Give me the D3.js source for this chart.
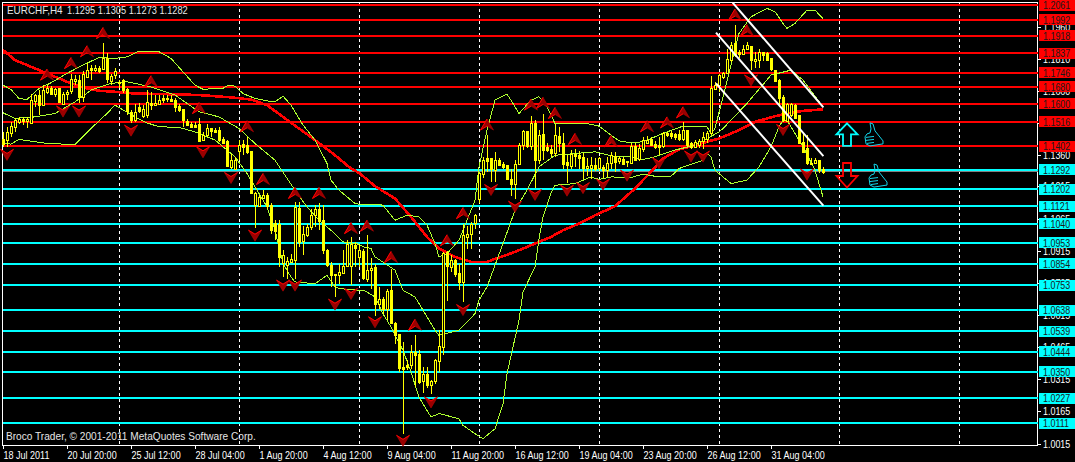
<!DOCTYPE html>
<html><head><meta charset="utf-8"><script src="https://d3js.org/d3.v7.min.js"></script>
<style>html,body{margin:0;padding:0;background:#000;overflow:hidden}svg{display:block}</style></head><body><div id="c"></div>
<script>
const symbol="EURCHF,H4", lastQuote=["1.1295","1.1305","1.1273","1.1282"], copyright="Broco Trader, © 2001-2011 MetaQuotes Software Corp.";
const opens=[1.1438,1.1431,1.1462,1.1490,1.1516,1.1529,1.1521,1.1511,1.1613,1.1641,1.1594,1.1656,1.1676,1.1645,1.1672,1.1602,1.1645,1.1656,1.1706,1.1711,1.1630,1.1729,1.1765,1.1757,1.1765,1.1765,1.1813,1.1711,1.1732,1.1704,1.1711,1.1667,1.1564,1.1527,1.1586,1.1547,1.1547,1.1606,1.1595,1.1599,1.1628,1.1620,1.1623,1.1617,1.1589,1.1574,1.1521,1.1505,1.1501,1.1505,1.1431,1.1454,1.1485,1.1477,1.1477,1.1438,1.1426,1.1309,1.1298,1.1384,1.1412,1.1406,1.1378,1.1127,1.1122,1.1161,1.1174,1.1127,1.1045,1.1041,1.0855,1.0847,1.0866,1.0870,1.1116,1.0961,1.0987,1.1026,1.1080,1.1107,1.1057,1.0917,1.0847,1.0805,1.0800,1.0808,1.0842,1.0847,1.0940,1.0886,1.0912,1.0785,1.0827,1.0839,1.0668,1.0691,1.0645,1.0730,1.0578,1.0525,1.0372,1.0380,1.0380,1.0442,1.0431,1.0305,1.0338,1.0287,1.0305,1.0400,1.0466,1.0909,1.0839,1.0873,1.0811,1.0769,1.0982,1.0995,1.1041,1.1155,1.1272,1.1345,1.1345,1.1294,1.1340,1.1318,1.1314,1.1247,1.1225,1.1317,1.1407,1.1474,1.1403,1.1511,1.1337,1.1457,1.1400,1.1387,1.1368,1.1449,1.1418,1.1329,1.1314,1.1368,1.1360,1.1350,1.1298,1.1298,1.1314,1.1298,1.1306,1.1294,1.1325,1.1356,1.1332,1.1342,1.1332,1.1325,1.1403,1.1340,1.1387,1.1418,1.1434,1.1412,1.1407,1.1400,1.1462,1.1462,1.1459,1.1459,1.1434,1.1477,1.1415,1.1400,1.1407,1.1423,1.1438,1.1462,1.1667,1.1687,1.1723,1.1742,1.1804,1.1882,1.1840,1.1835,1.1855,1.1871,1.1796,1.1804,1.1840,1.1838,1.1812,1.1760,1.1711,1.1630,1.1521,1.1547,1.1594,1.1547,1.1423,1.1392,1.1326,1.1321,1.1337,1.1295];
const highs=[1.1469,1.1493,1.1516,1.1532,1.1539,1.1539,1.1539,1.1648,1.1648,1.1664,1.1687,1.1687,1.1683,1.1672,1.1676,1.1656,1.1664,1.1739,1.1734,1.1734,1.1754,1.1791,1.1781,1.1781,1.1776,1.1882,1.1835,1.1739,1.1765,1.1711,1.1714,1.1672,1.1571,1.1599,1.1602,1.1594,1.1664,1.1656,1.1641,1.1641,1.1641,1.1641,1.1641,1.1625,1.1599,1.1578,1.1527,1.1516,1.1516,1.1532,1.1469,1.1508,1.1488,1.1485,1.1493,1.1446,1.1431,1.1365,1.1353,1.1431,1.1431,1.1443,1.1381,1.1189,1.1174,1.1197,1.1182,1.1135,1.1057,1.1057,1.0917,1.0886,1.0898,1.1143,1.1143,1.1029,1.1041,1.1111,1.1127,1.1135,1.1127,1.0925,1.0863,1.0808,1.0855,1.0920,1.0964,1.0979,1.0956,1.0948,1.0925,1.0987,1.0883,1.0855,1.0746,1.0699,1.0738,1.0831,1.0583,1.0528,1.0489,1.0407,1.0473,1.0520,1.0450,1.0372,1.0372,1.0313,1.0411,1.0547,1.0909,1.0914,1.0894,1.0878,1.0855,1.1041,1.1029,1.1049,1.1088,1.1283,1.1353,1.1454,1.1345,1.1376,1.1345,1.1329,1.1314,1.1298,1.1340,1.1415,1.1477,1.1474,1.1542,1.1524,1.1477,1.1552,1.1415,1.1407,1.1508,1.1490,1.1465,1.1360,1.1384,1.1387,1.1381,1.1371,1.1345,1.1353,1.1345,1.1353,1.1314,1.1353,1.1376,1.1376,1.1356,1.1350,1.1332,1.1418,1.1418,1.1412,1.1446,1.1449,1.1443,1.1427,1.1446,1.1469,1.1469,1.1474,1.1465,1.1477,1.1516,1.1480,1.1423,1.1431,1.1434,1.1469,1.1474,1.1729,1.1703,1.1739,1.1749,1.1858,1.1889,1.1967,1.1851,1.1874,1.1889,1.1871,1.1843,1.1858,1.1843,1.1843,1.1816,1.1760,1.1718,1.1641,1.1602,1.1602,1.1597,1.1547,1.1462,1.1454,1.1345,1.1345,1.1340,1.1305];
const lows=[1.1400,1.1400,1.1446,1.1469,1.1508,1.1501,1.1485,1.1505,1.1586,1.1547,1.1589,1.1648,1.1645,1.1633,1.1602,1.1599,1.1617,1.1645,1.1687,1.1602,1.1609,1.1726,1.1711,1.1749,1.1745,1.1760,1.1698,1.1687,1.1718,1.1672,1.1651,1.1547,1.1511,1.1516,1.1555,1.1532,1.1532,1.1571,1.1589,1.1599,1.1605,1.1609,1.1609,1.1563,1.1563,1.1490,1.1496,1.1490,1.1485,1.1423,1.1427,1.1446,1.1446,1.1462,1.1423,1.1412,1.1306,1.1298,1.1290,1.1337,1.1360,1.1368,1.1182,1.1023,1.1119,1.1158,1.1111,1.0995,1.0964,1.0839,1.0792,1.0785,1.0863,1.0785,1.0933,1.0894,1.0979,1.1010,1.1026,1.1010,1.0901,1.0839,1.0746,1.0699,1.0761,1.0808,1.0839,1.0754,1.0839,1.0839,1.0777,1.0769,1.0738,1.0609,1.0645,1.0621,1.0590,1.0575,1.0481,1.0349,1.0061,1.0357,1.0365,1.0279,1.0295,1.0251,1.0276,1.0245,1.0292,1.0349,1.0427,1.0679,1.0816,1.0792,1.0730,1.0676,1.0925,1.0925,1.1018,1.1138,1.1252,1.1283,1.1236,1.1236,1.1314,1.1298,1.1244,1.1169,1.1158,1.1314,1.1384,1.1392,1.1384,1.1209,1.1318,1.1340,1.1376,1.1353,1.1353,1.1376,1.1298,1.1231,1.1298,1.1306,1.1298,1.1247,1.1262,1.1247,1.1287,1.1287,1.1252,1.1259,1.1298,1.1283,1.1321,1.1314,1.1306,1.1318,1.1334,1.1334,1.1376,1.1415,1.1403,1.1387,1.1360,1.1392,1.1443,1.1438,1.1431,1.1427,1.1427,1.1400,1.1387,1.1392,1.1392,1.1388,1.1415,1.1454,1.1664,1.1656,1.1718,1.1739,1.1796,1.1819,1.1812,1.1827,1.1851,1.1757,1.1765,1.1765,1.1801,1.1804,1.1754,1.1703,1.1586,1.1516,1.1516,1.1539,1.1527,1.1415,1.1371,1.1314,1.1314,1.1318,1.1275,1.1273];
const closes=[1.1415,1.1469,1.1496,1.1524,1.1530,1.1521,1.1530,1.1617,1.1641,1.1594,1.1664,1.1676,1.1648,1.1667,1.1605,1.1648,1.1656,1.1714,1.1714,1.1633,1.1739,1.1760,1.1757,1.1767,1.1751,1.1816,1.1717,1.1732,1.1751,1.1698,1.1664,1.1563,1.1527,1.1563,1.1567,1.1578,1.1609,1.1599,1.1602,1.1617,1.1620,1.1625,1.1616,1.1586,1.1571,1.1524,1.1502,1.1493,1.1490,1.1427,1.1454,1.1485,1.1469,1.1469,1.1431,1.1418,1.1309,1.1340,1.1340,1.1410,1.1400,1.1374,1.1182,1.1182,1.1166,1.1174,1.1122,1.1010,1.1010,1.0886,1.0894,1.0867,1.0878,1.1119,1.0956,1.0995,1.1026,1.1080,1.1107,1.1049,1.0917,1.0847,1.0800,1.0800,1.0816,1.0842,1.0945,1.0948,1.0925,1.0917,1.0785,1.0827,1.0836,1.0668,1.0691,1.0645,1.0727,1.0578,1.0520,1.0365,1.0365,1.0372,1.0442,1.0427,1.0302,1.0338,1.0287,1.0305,1.0403,1.0469,1.0905,1.0842,1.0873,1.0808,1.0769,1.0987,1.0995,1.1041,1.1080,1.1275,1.1337,1.1332,1.1294,1.1340,1.1318,1.1306,1.1247,1.1225,1.1317,1.1407,1.1474,1.1403,1.1511,1.1337,1.1454,1.1384,1.1384,1.1368,1.1454,1.1415,1.1321,1.1314,1.1368,1.1360,1.1345,1.1298,1.1309,1.1314,1.1294,1.1345,1.1294,1.1326,1.1360,1.1329,1.1345,1.1321,1.1328,1.1403,1.1337,1.1392,1.1431,1.1431,1.1407,1.1400,1.1396,1.1462,1.1454,1.1446,1.1446,1.1434,1.1477,1.1407,1.1396,1.1423,1.1427,1.1443,1.1465,1.1672,1.1687,1.1734,1.1742,1.1807,1.1874,1.1827,1.1832,1.1858,1.1874,1.1807,1.1807,1.1843,1.1827,1.1807,1.1760,1.1707,1.1625,1.1521,1.1599,1.1597,1.1532,1.1418,1.1376,1.1321,1.1321,1.1337,1.1290,1.1282];
const maBars=[0,3,8,12,16,20,24,28,33,41,49,57,62,66,70,74,78,83,87,89,93,98,102,106,109,113,117,121,124,128,133,137,140,144,148,153,158,162,165,169,173,176,179,180,184,188,193,196,200,205];
const maVals=[1.1851,1.1804,1.1765,1.1734,1.1703,1.1676,1.1661,1.1656,1.1648,1.1645,1.1641,1.1630,1.1620,1.1594,1.1539,1.1485,1.1431,1.1360,1.1298,1.1278,1.1216,1.1158,1.1073,1.0979,1.0925,1.0886,1.0863,1.0863,1.0883,1.0909,1.0948,1.0979,1.1010,1.1041,1.1080,1.1122,1.1205,1.1283,1.1345,1.1387,1.1407,1.1423,1.1438,1.1446,1.1477,1.1516,1.1542,1.1555,1.1567,1.1574];
const upperBars=[0,2,4,6,9,12,16,20,24,28,31,34,39,42,45,48,50,55,56,58,60,63,66,68,70,72,75,78,81,82,84,88,89,93,95,98,101,104,106,108,109,111,114,118,119,121,123,126,127,129,132,134,136,138,146,149,152,154,157,160,162,165,170,176,177,178,184,187,191,193,195,196,198,201,203,205];
const upperVals=[1.1687,1.1667,1.1625,1.1620,1.1672,1.1698,1.1742,1.1781,1.1816,1.1812,1.1819,1.1846,1.1843,1.1812,1.1749,1.1687,1.1668,1.1672,1.1684,1.1683,1.1648,1.1625,1.1614,1.1609,1.1636,1.1594,1.1501,1.1431,1.1322,1.1244,1.1197,1.1135,1.1132,1.1132,1.1127,1.1057,1.1080,1.1073,1.1034,1.0948,1.0886,1.0901,1.0964,1.1150,1.1306,1.1477,1.1617,1.1645,1.1617,1.1555,1.1617,1.1633,1.1586,1.1508,1.1508,1.1496,1.1454,1.1427,1.1418,1.1423,1.1438,1.1462,1.1496,1.1493,1.1462,1.1485,1.1928,1.2006,1.2045,1.2030,1.1975,1.1952,1.1975,1.2037,1.2037,1.1998];
const midBars=[0,3,8,13,18,22,27,31,37,43,49,54,59,63,68,73,76,79,82,85,89,90,92,93,98,100,103,105,106,108,109,114,118,119,121,125,128,131,134,138,143,148,153,157,160,163,168,173,176,179,180,186,192,197,200,205];
const midVals=[1.1558,1.1532,1.1539,1.1555,1.1609,1.1664,1.1695,1.1703,1.1679,1.1641,1.1563,1.1539,1.1485,1.1415,1.1337,1.1197,1.1119,1.1057,1.1010,1.0956,1.0945,1.0933,1.0925,1.0886,1.0824,1.0730,1.0699,1.0637,1.0606,1.0544,1.0520,1.0544,1.0621,1.0684,1.0746,1.0948,1.1104,1.1197,1.1306,1.1360,1.1368,1.1376,1.1353,1.1353,1.1340,1.1353,1.1384,1.1407,1.1438,1.1469,1.1485,1.1602,1.1734,1.1757,1.1711,1.1586];
const lowerBars=[0,2,4,11,18,22,26,28,33,36,39,44,48,53,58,61,66,68,70,72,73,78,81,83,84,89,90,91,93,95,97,100,102,104,107,109,114,115,118,120,123,125,126,129,130,133,134,135,137,138,143,147,149,152,157,160,163,167,169,175,176,177,178,182,186,189,192,194,195,196,200,203,205];
const lowerVals=[1.1415,1.1412,1.1434,1.1415,1.1410,1.1485,1.1555,1.1594,1.1539,1.1511,1.1493,1.1490,1.1469,1.1431,1.1353,1.1275,1.1119,1.1010,1.0855,1.0792,1.0769,1.0761,1.0800,1.0746,1.0738,1.0730,1.0730,1.0722,1.0699,1.0621,1.0559,1.0450,1.0349,1.0232,1.0139,1.0155,1.0131,1.0100,1.0061,1.0038,1.0084,1.0201,1.0341,1.0590,1.0722,1.0839,1.0971,1.1073,1.1182,1.1220,1.1228,1.1259,1.1247,1.1259,1.1256,1.1272,1.1262,1.1262,1.1298,1.1337,1.1368,1.1353,1.1290,1.1228,1.1244,1.1306,1.1400,1.1493,1.1524,1.1524,1.1400,1.1290,1.1166];
const upFractalBars=[25,21,17,11,37,49,61,65,73,79,87,91,97,103,111,115,121,132,135,138,143,152,161,166,170,183,186];
const upFractalVals=[1.1928,1.1843,1.1788,1.1734,1.1703,1.1578,1.1493,1.1247,1.1182,1.1182,1.1018,1.1029,1.0883,1.0567,1.0961,1.1088,1.1501,1.1594,1.1602,1.1555,1.1434,1.1423,1.1493,1.1511,1.1558,1.2014,1.1941];
const downFractalBars=[1,15,19,32,50,57,63,70,73,83,87,93,100,107,115,122,128,133,141,145,150,156,164,172,175,187,195,201];
const downFractalVals=[1.1364,1.1566,1.1566,1.1477,1.1376,1.1256,1.0987,1.0754,1.0754,1.0665,1.0715,1.0583,1.0030,1.0209,1.0640,1.1200,1.1122,1.1177,1.1197,1.1209,1.1225,1.1267,1.1325,1.1356,1.1356,1.1711,1.1480,1.1272];
const redLevels=[1.2061,1.1992,1.1918,1.1837,1.1746,1.1680,1.1600,1.1516,1.1402];
const cyanLevels=[1.1292,1.1202,1.1121,1.1040,1.0953,1.0854,1.0753,1.0638,1.0539,1.0444,1.0350,1.0227,1.0111];
const bidLevel=1.1282;
const priceTicks=[1.1960,1.1810,1.1660,1.1510,1.1360,1.1215,1.1065,1.0915,1.0765,1.0615,1.0465,1.0315,1.0165,1.0015];
const timeTickBars=[0,16,32,48,64,80,96,112,128,144,160,176,192];
const timeTickLabels=["18 Jul 2011","20 Jul 20:00","25 Jul 12:00","28 Jul 04:00","1 Aug 20:00","4 Aug 12:00","9 Aug 04:00","11 Aug 20:00","16 Aug 12:00","19 Aug 04:00","23 Aug 20:00","26 Aug 12:00","31 Aug 04:00"];
const separatorBars=[29,59,89,119,149,179,209,239];
const channelStartBars=[182.4,178.25,178.25], channelStartVals=[1.2072,1.1932,1.1695];
const channelEndBars=[205.1,205.1,205.1], channelEndVals=[1.1583,1.1356,1.1125];

const W=1075,H=462,L=2.5,R=1037.5,T=2.5,B=445.5;
const x=d3.scaleLinear().domain([0,1]).range([3,7]);
const y=d3.scaleLinear().domain([1.2061,1.0111]).range([5,423]);
const svg=d3.select("#c").append("svg").attr("width",W).attr("height",H).style("background","#000").style("shape-rendering","crispEdges");
const FONT="'Liberation Sans',sans-serif";
const fit=(sel,k)=>sel.each(function(){this.setAttribute("textLength",this.getComputedTextLength()*k);this.setAttribute("lengthAdjust","spacingAndGlyphs");});

svg.append("g").selectAll("line").data(separatorBars).join("line").attr("x1",d=>x(d)+.5).attr("x2",d=>x(d)+.5).attr("y1",T).attr("y2",B).attr("stroke","#fff").attr("stroke-dasharray","3,3");

const yAxis=d3.axisRight(y).tickValues(priceTicks).tickSize(3).tickPadding(2).tickFormat(d3.format(".4f"));
const gy=svg.append("g").attr("transform",`translate(${R},0)`).call(yAxis);
gy.select(".domain").remove();
gy.selectAll("line").attr("stroke","#fff");
gy.selectAll("text").attr("fill","#fff").attr("font-family",FONT).attr("font-size",11).attr("x",5.5).call(fit,.81);
const xAxis=d3.axisBottom(x).tickValues(timeTickBars).tickSize(3).tickFormat((d,i)=>timeTickLabels[i]);
const gx=svg.append("g").attr("transform",`translate(0,${B})`).call(xAxis);
gx.select(".domain").remove();
gx.selectAll("line").attr("stroke","#fff");
gx.selectAll("text").attr("fill","#fff").attr("font-family",FONT).attr("font-size",11).attr("text-anchor","start").attr("x",0).attr("y",6).attr("dy","0.71em").call(fit,.82);
svg.append("rect").attr("x",L).attr("y",T).attr("width",R-L).attr("height",B-T).attr("fill","none").attr("stroke","#fff");

const clip=svg.append("g");
const levelG=clip.append("g");
levelG.selectAll(".r").data(redLevels).join("line").attr("class","r").attr("x1",L+.5).attr("x2",R).attr("y1",d=>y(d)).attr("y2",d=>y(d)).attr("stroke","#ff0000").attr("stroke-width",2);
levelG.append("line").attr("x1",L+.5).attr("x2",R).attr("y1",y(bidLevel)).attr("y2",y(bidLevel)).attr("stroke","#808080");
levelG.selectAll(".c").data(cyanLevels).join("line").attr("class","c").attr("x1",L+.5).attr("x2",R).attr("y1",d=>y(d)).attr("y2",d=>y(d)).attr("stroke","#00ffff").attr("stroke-width",2);

const line=d3.line().x(d=>x(d[0])).y(d=>y(d[1]));
const zip=(a,b)=>a.map((v,i)=>[v,b[i]]);
const bg=clip.append("g").attr("fill","none");
bg.append("path").attr("d",line(zip(maBars,maVals))).attr("stroke","#ff0000").attr("stroke-width",2.6);
[[upperBars,upperVals],[midBars,midVals],[lowerBars,lowerVals]].forEach(([a,b])=>bg.append("path").attr("d",line(zip(a,b))).attr("stroke","#adff2f").attr("stroke-width",1));

// fractals: notched arrowheads, bright edge over a dark core
const arrowUp="M0,-6L6.5,5L0,1L-6.5,5Z", arrowDown="M-6.5,-5L0,-1L6.5,-5L0,6Z";
const fr=clip.append("g").style("shape-rendering","auto");
const upF=fr.selectAll(".u").data(upFractalBars).join("g").attr("class","u").attr("transform",(d,i)=>`translate(${x(d)},${y(upFractalVals[i])})`);
upF.append("path").attr("d",arrowUp).attr("fill","#9a0000").attr("stroke","#c00000").attr("stroke-width",.6);
upF.append("path").attr("d","M0,-6L-6.5,5L0,1").attr("fill","none").attr("stroke","#ff0000");
const dnF=fr.selectAll(".d").data(downFractalBars).join("g").attr("class","d").attr("transform",(d,i)=>`translate(${x(d)},${y(downFractalVals[i])})`);
dnF.append("path").attr("d",arrowDown).attr("fill","#9a0000").attr("stroke","#c00000").attr("stroke-width",.6);
dnF.append("path").attr("d","M-6.5,-5L0,-1L6.5,-5").attr("fill","none").attr("stroke","#ff0000");

const idx=d3.range(opens.length);
const cg=clip.append("g");
cg.selectAll(".w").data(idx).join("line").attr("class","w").attr("x1",i=>x(i)+.5).attr("x2",i=>x(i)+.5).attr("y1",i=>y(highs[i])).attr("y2",i=>y(lows[i])).attr("stroke","#ffff00");
cg.selectAll(".b").data(idx).join("rect").attr("class","b")
 .attr("x",i=>x(i)-.5).attr("width",2)
 .attr("y",i=>Math.round(y(Math.max(opens[i],closes[i])))+.5)
 .attr("height",i=>Math.max(1,Math.round(Math.abs(y(opens[i])-y(closes[i])))))
 .attr("fill",i=>closes[i]>=opens[i]?"#000":"#ffff00").attr("stroke","#ffff00");

clip.append("g").style("shape-rendering","auto").selectAll("line").data(channelStartBars).join("line")
 .attr("x1",d=>x(d)).attr("y1",(d,i)=>y(channelStartVals[i])).attr("x2",(d,i)=>x(channelEndBars[i])).attr("y2",(d,i)=>y(channelEndVals[i])).attr("stroke","#fff").attr("stroke-width",2);

const annX=x(211), th=x(215.5), th2=x(216.5);
const ann=clip.append("g").attr("fill","none").attr("stroke-width",1.8).style("shape-rendering","auto");
ann.append("path").attr("transform",`translate(${annX},${y(1.1511)})`).attr("d","M0,0.5L10.5,11.5L4,11.5L4,23L-4,23L-4,11.5L-10.5,11.5Z").attr("stroke","#00ffff");
ann.append("path").attr("transform",`translate(${annX},${y(1.1324)})`).attr("d","M-4,0L4,0L4,13L10.5,13L0,24.5L-10.5,13L-4,13Z").attr("stroke","#ff0000");
const thumb="M5,0L8,1L10,8L18,18L18,21L5,23L1,21L0,14L2,11L5,10L6,6ZM1,14.5L9,13.5M1,17.5L9,16.5M2,20.5L9,19.5";
ann.append("path").attr("transform",`translate(${th},${y(1.1511)})`).attr("d",thumb).attr("stroke","#12d4e8").attr("stroke-width",1);
ann.append("path").attr("transform",`translate(${th2},${y(1.1319)})`).attr("d",thumb).attr("stroke","#12d4e8").attr("stroke-width",1);

const labels=(arr,c)=>{const g=svg.append("g").selectAll("g").data(arr).join("g").attr("transform",d=>`translate(1039,${y(d)})`);
 g.append("rect").attr("x",0).attr("y",-5.5).attr("width",36).attr("height",11).attr("fill",c);
 g.append("text").attr("x",4).attr("y",4).attr("fill","#1a1a1a").attr("font-family",FONT).attr("font-size",11).text(d=>d.toFixed(4)).call(fit,.81);};
labels(redLevels,"#ff0000"); labels(cyanLevels,"#00ffff");

svg.append("text").attr("x",7).attr("y",14).attr("fill","#e6e6e6").attr("font-family",FONT).attr("font-size",11).text(symbol).call(fit,.9);
svg.append("text").attr("x",67).attr("y",14).attr("fill","#e6e6e6").attr("font-family",FONT).attr("font-size",11).text(lastQuote.join(" ")).call(fit,.84);
svg.append("text").attr("x",6).attr("y",440).attr("fill","#e6e6e6").attr("font-family",FONT).attr("font-size",11).text(copyright).call(fit,.92);
</script></body></html>
